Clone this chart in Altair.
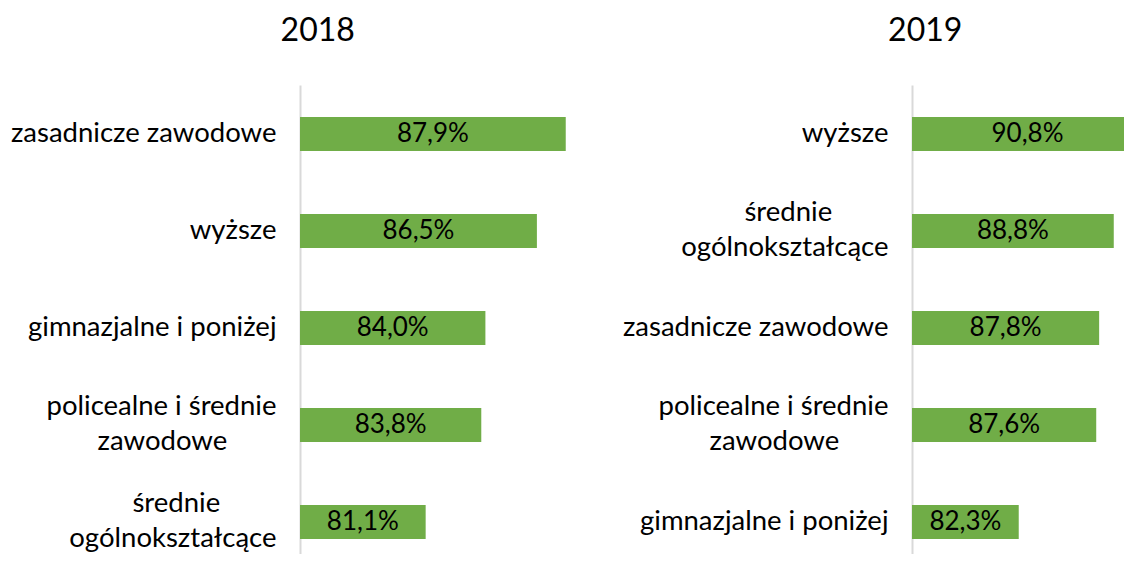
import altair as alt
import pandas as pd

cats_2018 = ["zasadnicze zawodowe", "wyższe", "gimnazjalne i poniżej",
             "policealne i średnie\nzawodowe", "średnie\nogólnokształcące"]
vals_2018 = [87.9, 86.5, 84.0, 83.8, 81.1]

cats_2019 = ["wyższe", "średnie\nogólnokształcące", "zasadnicze zawodowe",
             "policealne i średnie\nzawodowe", "gimnazjalne i poniżej"]
vals_2019 = [90.8, 88.8, 87.8, 87.6, 82.3]

FONT = "Lato"
GREEN = "#70AD47"
SP = "\u00a0"      # non-breaking space used to centre the shorter line
END = "\u200b"     # zero-width char so the padding is not trimmed
L = "split(datum.label, '\\n')"


def width_units(s):
    # rough text width: narrow glyphs count as half a character
    return (f"(length({s}) - 0.5 * (length({s}) - "
            f"length(replace({s}, regexp('[ilrtjśł ]', 'g'), ''))))")


def line_expr(i, j):
    a, b = f"{L}[{i}]", f"{L}[{j}]"
    n = f"max(0, round(({width_units(b)} - {width_units(a)}) * 0.94))"
    return f"pad({a}, length({a}) + {n}, '{SP}') + '{END}'"


LABEL_EXPR = f"length({L}) > 1 ? [{line_expr(0, 1)}, {line_expr(1, 0)}] : datum.label"


def panel(cats, vals, year, width, dmax, title_dx):
    df = pd.DataFrame({"cat": cats, "val": vals})
    base = alt.Chart(df).transform_calculate(
        mid="(75 + datum.val) / 2",
        lbl="replace(format(datum.val, '.1f'), '.', ',') + '%'",
    )
    y = alt.Y(
        "cat:N",
        sort=alt.EncodingSortField("val", order="descending"),
        scale=alt.Scale(paddingInner=0.5, paddingOuter=0.1675, align=0.76),
        axis=alt.Axis(
            title=None, ticks=False, grid=False, domain=True,
            domainColor="#D9D9D9", domainWidth=2,
            labelFont=FONT, labelFontSize=27.5, labelColor="black",
            labelPadding=24, labelLineHeight=35, labelLimit=500,
            labelExpr=LABEL_EXPR,
            labelOffset={"condition": {"test": "indexof(datum.label, '\\n') >= 0",
                                       "value": -17.5},
                         "value": 0},
        ),
    )
    xs = alt.Scale(domain=[75, dmax], nice=False, zero=False)
    bars = base.mark_bar(color=GREEN, size=34, clip=True).encode(
        x=alt.X("val:Q", scale=xs, axis=None),
        x2=alt.datum(75),
        y=y,
    )
    text = base.mark_text(font=FONT, fontSize=26, color="black",
                          align="center", baseline="middle").encode(
        x=alt.X("mid:Q", scale=xs, axis=None),
        y=y,
        text="lbl:N",
    )
    return alt.layer(bars, text).properties(
        width=width, height=469,
        title=alt.TitleParams(
            text=year, font=FONT, fontSize=32, fontWeight="normal",
            color="black", anchor="middle", frame="bounds",
            offset=37, dx=title_dx,
        ),
    )


left = panel(cats_2018, vals_2018, "2018", 309, 90.0, 8)
right = panel(cats_2019, vals_2019, "2019", 212, 89.5, 52)

chart = alt.hconcat(left, right, spacing=13).properties(
    padding={"left": 2, "top": 7, "right": 0, "bottom": 0}
).configure_view(stroke=None)

chart.save("out.html", embed_options={"renderer": "svg", "actions": False})
